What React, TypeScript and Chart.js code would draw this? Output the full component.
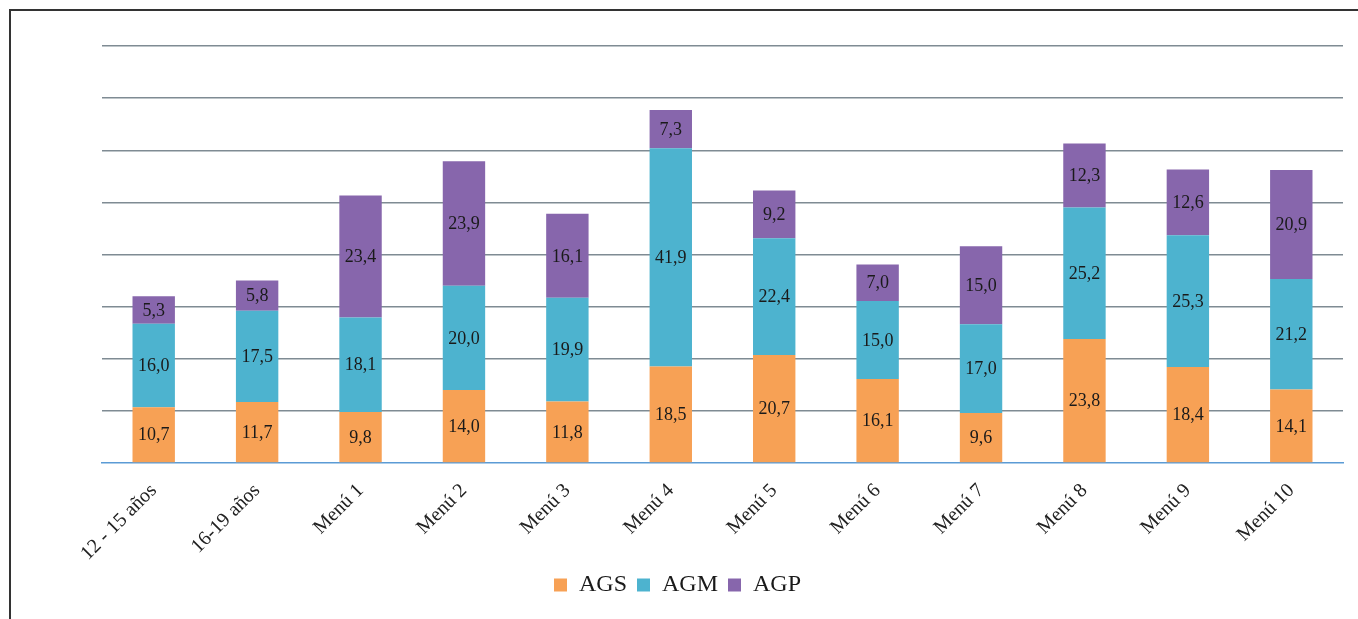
import React, { useEffect, useRef } from "react";
import { Chart, registerables } from "chart.js";

Chart.register(...registerables);

const categories = [
  "12 - 15 años",
  "16-19 años",
  "Menú 1",
  "Menú 2",
  "Menú 3",
  "Menú 4",
  "Menú 5",
  "Menú 6",
  "Menú 7",
  "Menú 8",
  "Menú 9",
  "Menú 10",
];
const agsValues = [10.7, 11.7, 9.8, 14.0, 11.8, 18.5, 20.7, 16.1, 9.6, 23.8, 18.4, 14.1];
const agmValues = [16.0, 17.5, 18.1, 20.0, 19.9, 41.9, 22.4, 15.0, 17.0, 25.2, 25.3, 21.2];
const agpValues = [5.3, 5.8, 23.4, 23.9, 16.1, 7.3, 9.2, 7.0, 15.0, 12.3, 12.6, 20.9];
const yTicks = [0, 10, 20, 30, 40, 50, 60, 70, 80];

const SERIF = '"Liberation Serif", "Times New Roman", serif';

const valueLabels = {
  id: "valueLabels",
  afterDatasetsDraw(chart: any) {
    const ctx = chart.ctx;
    ctx.save();
    ctx.font = `18px ${SERIF}`;
    ctx.fillStyle = "#1a1a1a";
    ctx.textAlign = "center";
    ctx.textBaseline = "middle";
    chart.data.datasets.forEach((ds: any, di: number) => {
      const meta = chart.getDatasetMeta(di);
      meta.data.forEach((el: any, i: number) => {
        const v = ds.data[i];
        const cy = (el.y + el.base) / 2;
        ctx.fillText(Number(v).toFixed(1).replace(".", ","), el.x, cy + 1);
      });
    });
    ctx.restore();
  },
};

export default function App() {
  const ref = useRef<HTMLCanvasElement | null>(null);
  useEffect(() => {
    if (!ref.current) return;
    const chart = new Chart(ref.current, {
      type: "bar",
      data: {
        labels: categories,
        datasets: [
          { label: "AGS", data: agsValues, backgroundColor: "#F7A155", barPercentage: 0.41, categoryPercentage: 1 },
          { label: "AGM", data: agmValues, backgroundColor: "#4DB3CF", barPercentage: 0.41, categoryPercentage: 1 },
          { label: "AGP", data: agpValues, backgroundColor: "#8766AC", barPercentage: 0.41, categoryPercentage: 1 },
        ],
      },
      options: {
        animation: false,
        responsive: false,
        maintainAspectRatio: false,
        layout: { padding: { left: 12, right: 15, top: 46, bottom: 12 } },
        plugins: {
          legend: {
            position: "bottom",
            labels: {
              font: { family: SERIF, size: 24 },
              color: "#1a1a1a",
              boxWidth: 13,
              boxHeight: 13,
              padding: 10,
            },
          },
          tooltip: { enabled: false },
        },
        scales: {
          x: {
            stacked: true,
            grid: { display: false, drawTicks: false },
            border: { display: true, color: "#5B9BD5", width: 1.5 },
            ticks: {
              maxRotation: 45,
              minRotation: 45,
              padding: 16,
              color: "#222",
              font: { family: SERIF, size: 20 },
            },
            afterFit: (scale: any) => {
              scale.height = 100;
            },
          },
          y: {
            stacked: true,
            min: 0,
            max: 80,
            afterBuildTicks: (scale: any) => {
              scale.ticks = yTicks.map((v) => ({ value: v }));
            },
            ticks: { display: false },
            grid: {
              drawTicks: false,
              color: (c: any) => (c.tick && c.tick.value === 0 ? "rgba(0,0,0,0)" : "#7F8B93"),
              lineWidth: 1.5,
            },
            border: { display: false },
            afterFit: (scale: any) => {
              scale.width = 90;
            },
          },
        },
      },
      plugins: [valueLabels],
    });
    return () => chart.destroy();
  }, []);

  return (
    <div style={{ position: "fixed", left: 0, top: 0, width: 1358, height: 619, background: "#fff", overflow: "hidden" }}>
      <div
        style={{
          position: "absolute",
          left: 9,
          top: 9,
          width: 1400,
          height: 700,
          borderLeft: "2px solid #333",
          borderTop: "2px solid #333",
        }}
      />
      <canvas ref={ref} width={1358} height={619} style={{ position: "absolute", left: 0, top: 0 }} />
    </div>
  );
}
